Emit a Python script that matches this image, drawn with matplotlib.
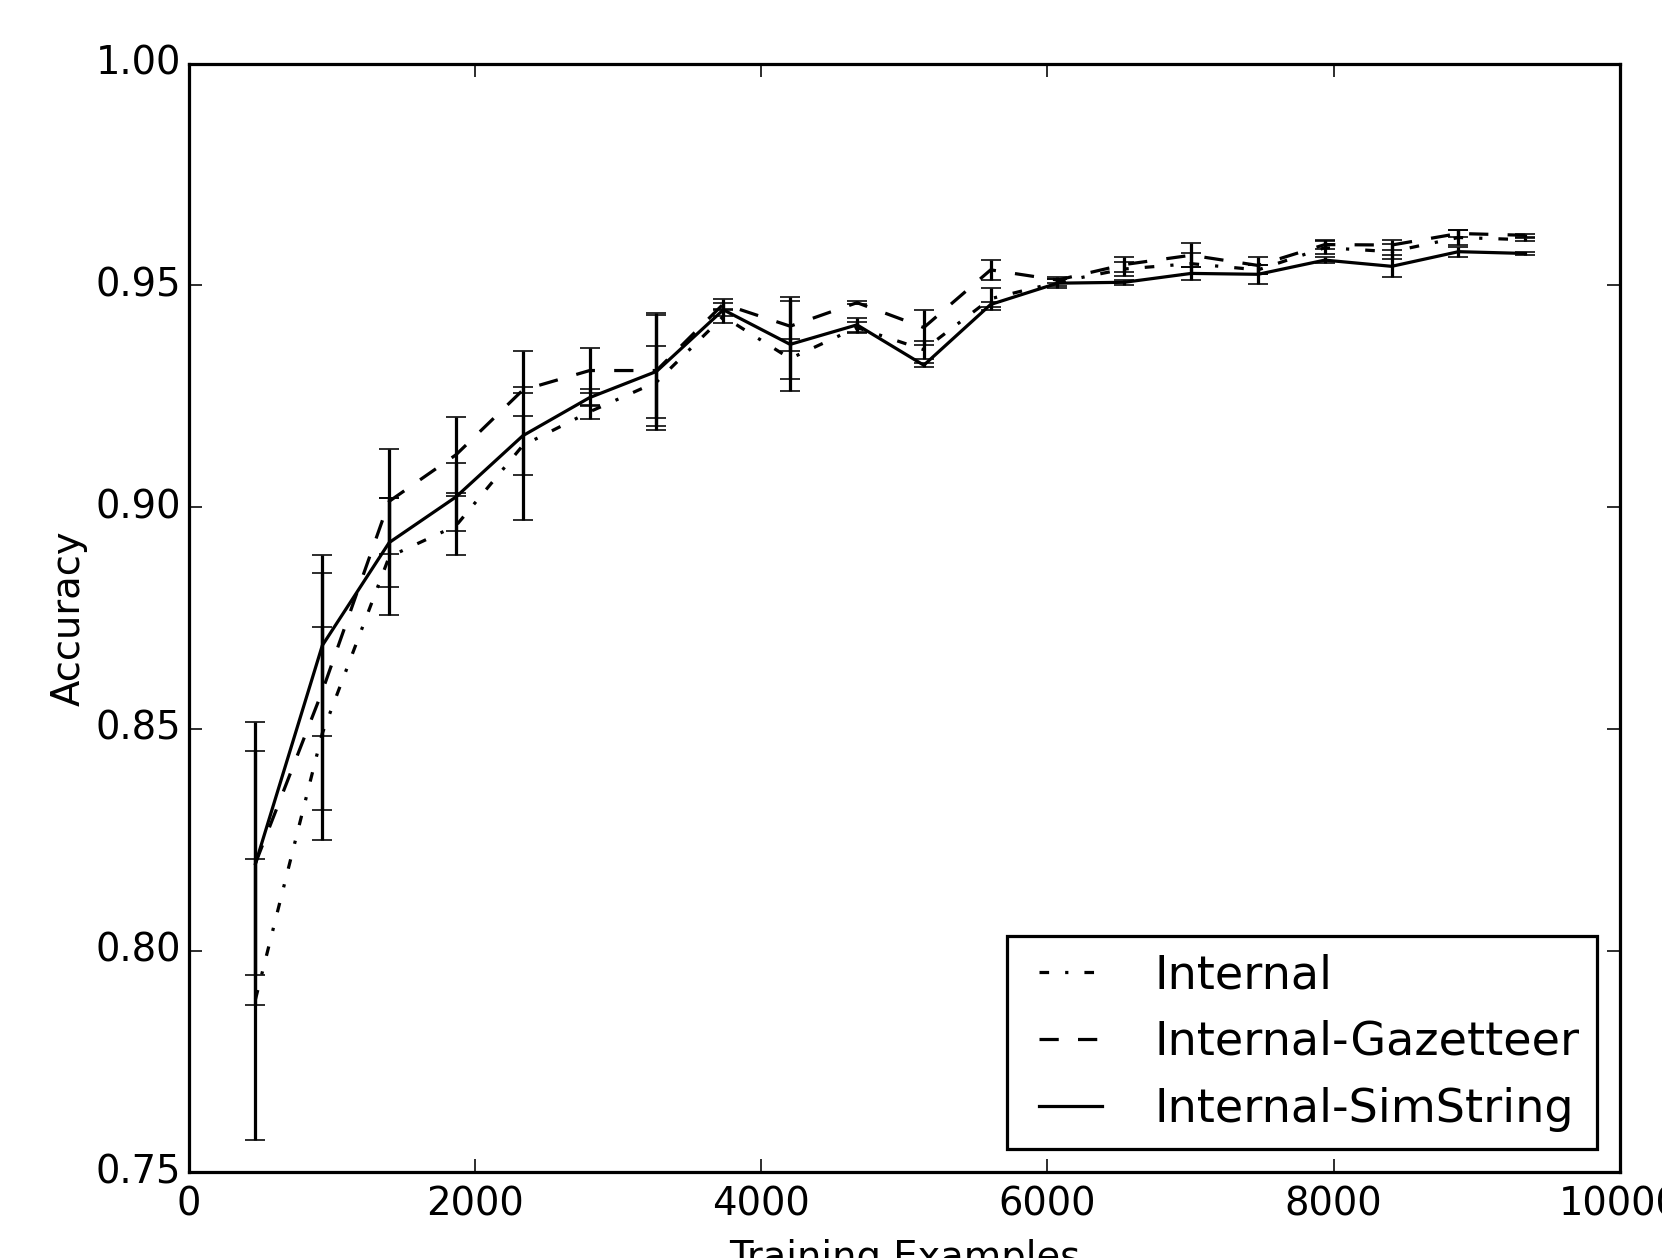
import matplotlib
matplotlib.use('Agg')
import matplotlib.pyplot as plt
from matplotlib.lines import Line2D
from matplotlib.legend_handler import HandlerLine2D

# Данные: число обучающих примеров и точность (среднее и разброс)
examples = [467, 934, 1401, 1868, 2335, 2802, 3269, 3736, 4203, 4670,
            5137, 5604, 6071, 6538, 7005, 7472, 7939, 8406, 8873, 9340]

internal = [0.7890, 0.8490, 0.8888, 0.8958, 0.9139, 0.9215, 0.9282, 0.9430, 0.9335, 0.9405,
            0.9355, 0.9470, 0.9507, 0.9537, 0.9549, 0.9535, 0.9585, 0.9576, 0.9608, 0.9603]
internal_err = [0.0316, 0.0240, 0.0132, 0.0067, 0.0067, 0.0016, 0.0082, 0.0015, 0.0045, 0.0013,
                0.0020, 0.0025, 0.0008, 0.0015, 0.0023, 0.0010, 0.0015, 0.0017, 0.0017, 0.0004]

gazetteer = [0.8197, 0.8585, 0.9013, 0.9118, 0.9264, 0.9308, 0.9308, 0.9458, 0.9408, 0.9461,
             0.9405, 0.9535, 0.9512, 0.9547, 0.9568, 0.9545, 0.9592, 0.9591, 0.9617, 0.9613]
gazetteer_err = [0.0253, 0.0267, 0.0118, 0.0086, 0.0006, 0.0050, 0.0125, 0.0012, 0.0056, 0.0003,
                 0.0040, 0.0022, 0.0006, 0.0016, 0.0027, 0.0020, 0.0010, 0.0011, 0.0008, 0.0004]

simstring = [0.8196, 0.8688, 0.8920, 0.9023, 0.9161, 0.9247, 0.9306, 0.9445, 0.9367, 0.9411,
             0.9320, 0.9457, 0.9505, 0.9507, 0.9527, 0.9525, 0.9557, 0.9543, 0.9576, 0.9572]
simstring_err = [0.0319, 0.0204, 0.0100, 0.0076, 0.0190, 0.0019, 0.0131, 0.0015, 0.0106, 0.0015,
                 0.0005, 0.0005, 0.0010, 0.0005, 0.0015, 0.0022, 0.0006, 0.0025, 0.0011, 0.0003]

series = [
    ('Internal', internal, internal_err, '-.'),
    ('Internal-Gazetteer', gazetteer, gazetteer_err, '--'),
    ('Internal-SimString', simstring, simstring_err, '-'),
]

plt.style.use('classic')
DPI = 231
fig = plt.figure(figsize=(1662 / DPI, 1258 / DPI), dpi=DPI, facecolor='white')
ax = fig.add_axes([0.1135, 0.0681, 0.8611, 0.8813])

lines = []
for name, vals, errs, ls in series:
    cont = ax.errorbar(examples, vals, yerr=errs, color='k', linestyle=ls,
                       ecolor='k', capsize=3, label=name)
    lines.append(cont[0])

ax.set_xlim(0, 10000)
ax.set_ylim(0.75, 1.00)
ax.tick_params(axis='y', pad=2.3)
ax.set_xlabel('Training Examples')
ax.set_ylabel('Accuracy', labelpad=2.5)

# легенда только с линиями, без усов
ax.legend(lines, [s[0] for s in series], loc='lower right', fontsize='large',
          handlelength=1.68, handletextpad=1.14, labelspacing=0.475,
          borderpad=0.375, borderaxespad=0.5, numpoints=1,
          handler_map={Line2D: HandlerLine2D(xpad=0.33)})

fig.savefig('out.png', dpi=DPI, facecolor='white')
plt.close(fig)
